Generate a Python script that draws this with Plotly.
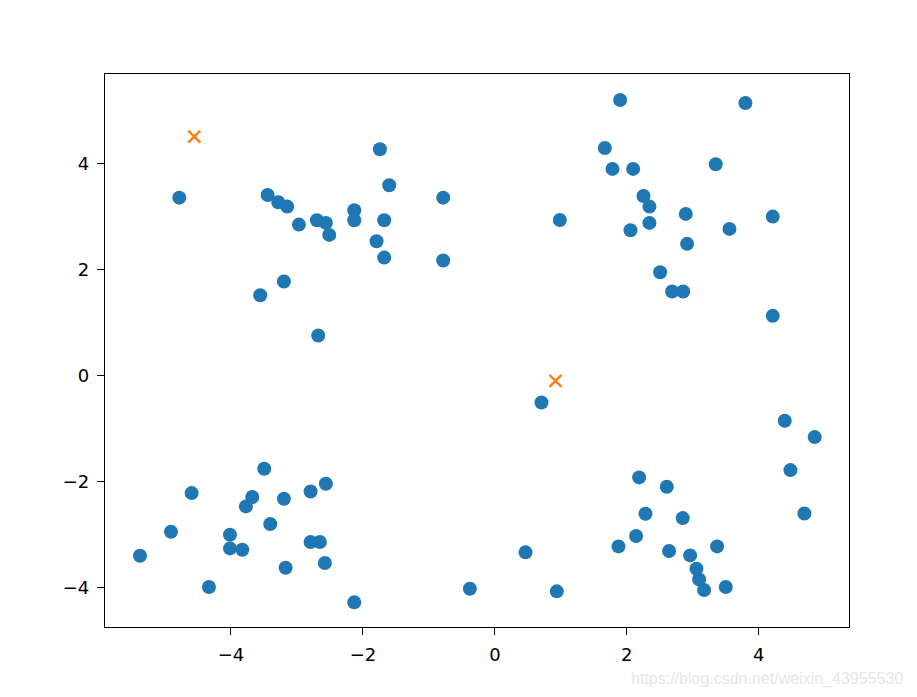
import plotly.graph_objects as go

# Blue data points
data_x = [
    -4.783, -3.444, -3.283, -3.147, -2.970, -2.697, -2.561, -2.510, -2.131, -2.131,
    -1.742, -1.601, -1.677, -1.793, -1.677, -0.783, -0.783, -3.197, -3.556, -2.677,
    1.899, 3.798, 1.667, 1.783, 2.096, 3.348, 2.253, 2.343, 2.343, 0.985,
    2.056, 2.894, 4.212, 3.556, 2.914, 2.505, 2.687, 2.854, 4.212,
    -3.495, -4.596, -3.677, -3.773, -3.197, -2.793, -2.561, -3.404, -4.909, -4.015,
    -4.015, -3.828, -2.793, -2.652, -5.379, -3.171, -2.576, -4.333, -2.131, -0.379,
    0.707, 0.465, 0.939, 2.187, 2.606, 2.283, 2.848, 2.141, 1.874, 2.641,
    2.960, 3.369, 3.056, 3.096, 3.172, 3.500, 4.394, 4.848, 4.480, 4.692,
]
data_y = [
    3.364, 3.415, 3.277, 3.195, 2.855, 2.937, 2.887, 2.660, 3.126, 2.937,
    4.277, 3.597, 2.937, 2.541, 2.232, 3.364, 2.176, 1.780, 1.522, 0.761,
    5.208, 5.151, 4.302, 3.906, 3.906, 3.994, 3.396, 3.195, 2.887, 2.943,
    2.749, 3.057, 3.006, 2.774, 2.491, 1.956, 1.591, 1.591, 1.132,
    -1.755, -2.214, -2.289, -2.465, -2.321, -2.183, -2.038, -2.799, -2.943, -3.000,
    -3.258, -3.283, -3.138, -3.138, -3.396, -3.623, -3.534, -3.987, -4.277, -4.019,
    -0.503, -3.333, -4.069, -1.918, -2.094, -2.604, -2.686, -3.025, -3.220, -3.308,
    -3.390, -3.220, -3.642, -3.843, -4.044, -3.987, -0.849, -1.157, -1.780, -2.598,
]

# Orange centroids
center_x = [-4.556, 0.919]
center_y = [4.515, -0.094]

x_ticks = [-4, -2, 0, 2, 4]
y_ticks = [-4, -2, 0, 2, 4]

fig = go.Figure()
fig.add_trace(go.Scatter(
    x=data_x, y=data_y, mode="markers",
    marker=dict(color="#1f77b4", size=14, line=dict(width=0)),
    showlegend=False, hoverinfo="skip",
))
fig.add_trace(go.Scatter(
    x=center_x, y=center_y, mode="markers",
    marker=dict(symbol="x-thin", color="#ff7f0e", size=12,
                line=dict(width=2.4, color="#ff7f0e")),
    showlegend=False, hoverinfo="skip",
))

axis_common = dict(
    showgrid=False, zeroline=False, showline=True, linecolor="black",
    linewidth=1.2, mirror=True, ticks="outside", ticklen=7, tickwidth=1.2,
    tickcolor="black", tickfont=dict(family="DejaVu Sans", size=18, color="black"),
    ticklabelstandoff=4,
)

fig.update_layout(
    width=917, height=697,
    margin=dict(l=97, r=76, t=66, b=78),
    paper_bgcolor="white", plot_bgcolor="white",
    xaxis=dict(range=[-5.909, 5.368], tickvals=x_ticks, **axis_common),
    yaxis=dict(range=[-4.742, 5.698], tickvals=y_ticks, **axis_common),
    annotations=[dict(
        text="https://blog.csdn.net/weixin_43955530",
        xref="paper", yref="paper", x=1.0, y=0, xanchor="right", yanchor="top",
        xshift=56, yshift=-41, showarrow=False,
        font=dict(family="Liberation Sans", size=16, color="#e6e6e6"),
    )],
)

fig.write_html("out.html")
